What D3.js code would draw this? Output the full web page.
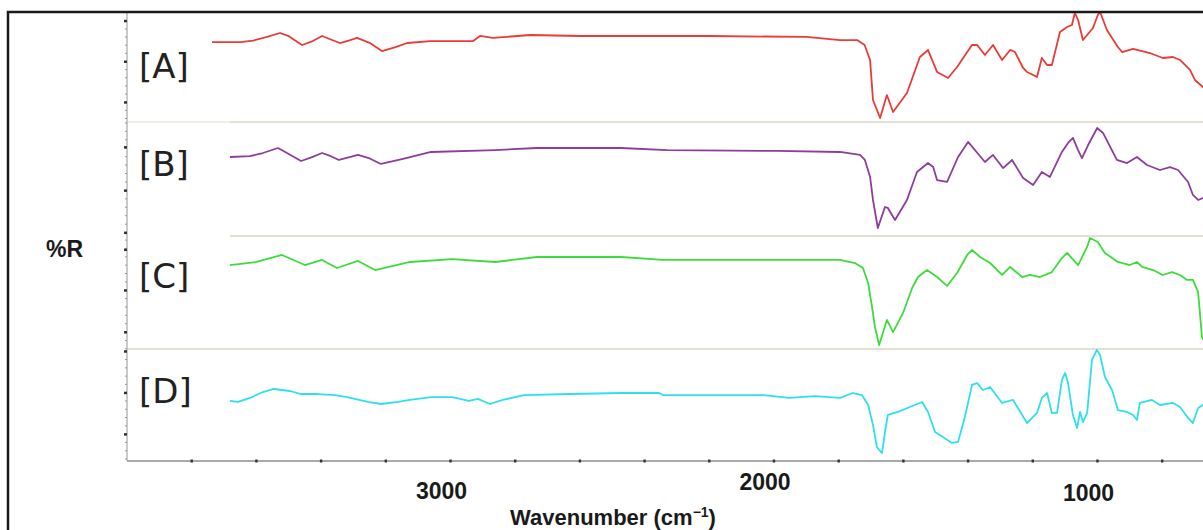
<!DOCTYPE html>
<html>
<head>
<meta charset="utf-8">
<script src="https://cdn.jsdelivr.net/npm/d3@7/dist/d3.min.js"></script>
<style>
  html, body { margin: 0; padding: 0; background: #fff; }
  svg { display: block; }
</style>
</head>
<body>
<svg id="chart" width="1203" height="530"></svg>
<script>
// ---------------- DATA ----------------
// wavenumber (cm-1), relative %R within each stacked panel (0-100)
const panelLabels = ["[A]", "[B]", "[C]", "[D]"];
const xTickValues = [3000, 2000, 1000];
const xTickLabels = ["3000", "2000", "1000"];
const yAxisTitle = "%R";
const xAxisTitle = "Wavenumber (cm";

const seriesA = [
  [3737,72.7],[3650,72.7],[3610,74],[3567,77.3],[3527,80.9],[3500,78],[3459,70],[3430,73],[3397,78.2],
  [3370,75],[3342,71.8],[3315,74],[3289,76.4],[3250,72],[3212,64.5],[3170,68],[3134,71.8],[3063,73.6],
  [2930,73.6],[2909,78.2],[2869,76.4],[2754,79.1],[2600,78.2],[2200,78.2],[1900,77.3],[1796,74.5],
  [1743,74.5],[1720,70],[1703,56.4],[1694,20],[1672,3.6],[1651,24.5],[1632,9.1],[1589,26.4],[1549,59.1],
  [1524,65.5],[1496,45.5],[1462,40],[1434,50],[1388,70],[1372,70],[1348,60.9],[1323,70],[1295,56.4],
  [1270,65.5],[1255,63.6],[1230,49.1],[1218,45.5],[1199,42.7],[1187,40.9],[1172,58.2],[1156,51.8],
  [1141,51.8],[1116,81.8],[1094,86.4],[1079,88.2],[1070,99.1],[1060,92.7],[1045,74.5],[1014,85.5],
  [999,97.3],[992,100],[971,83.6],[937,68.2],[924,63.6],[890,66.4],[838,62.7],[798,58.2],[767,59.1],
  [745,56.4],[714,47.3],[699,38.2],[674,31.8],[655,29]
];
const seriesB = [
  [3682,69.3],[3620,70],[3580,72.8],[3533,77.2],[3500,72],[3462,65.8],[3430,69],[3397,72.8],[3370,70],
  [3345,66.7],[3315,69],[3286,71.1],[3250,68],[3215,63.2],[3150,67.5],[3060,73.7],[2862,75.4],[2733,77.2],
  [2473,77.2],[2331,75.4],[1991,74.6],[1796,73.7],[1734,71.1],[1719,66.7],[1703,51.8],[1694,31.6],
  [1679,7],[1657,25.4],[1648,24.6],[1626,14],[1589,31.6],[1558,56.1],[1524,64],[1508,60.5],[1496,49.1],
  [1465,47.4],[1431,69.3],[1400,82.5],[1348,64.9],[1323,71.1],[1292,59.6],[1264,66.7],[1230,50.9],
  [1199,44.7],[1172,56.1],[1147,51.8],[1110,73.7],[1091,81.6],[1076,86],[1060,75.4],[1048,68.4],
  [1029,79.8],[1001,94.7],[983,90.4],[940,66.7],[909,64],[878,69.3],[847,62.3],[807,57.9],[776,60.5],
  [751,57.9],[720,47.4],[705,36],[689,31.6],[674,33.3],[655,31]
];
const seriesC = [
  [3682,74.3],[3600,77],[3521,83.2],[3450,74.3],[3397,78.8],[3351,71.7],[3286,77.9],[3233,69.9],
  [3125,77],[2995,79.6],[2862,77],[2733,81.4],[2473,81.4],[2343,78.8],[1796,78.8],[1750,76.1],
  [1725,71.7],[1709,58.4],[1697,37.2],[1688,19.5],[1675,3.5],[1651,25.7],[1632,15],[1601,31.9],
  [1573,54],[1555,63.7],[1527,69.9],[1496,63.7],[1465,55.8],[1434,67.3],[1403,83.2],[1388,87.6],
  [1363,81.4],[1332,76.1],[1295,65.5],[1270,72.6],[1233,63.7],[1209,65.5],[1178,63.7],[1141,68.1],
  [1110,80.5],[1094,85],[1060,74.3],[1032,90.3],[1023,98.2],[999,94.7],[977,85],[937,77],[900,74.3],
  [878,77],[862,72.6],[828,69.9],[798,65.5],[770,68.1],[745,65.5],[723,61.1],[705,61.1],[689,50.4],
  [677,10.6],[665,5]
];
const seriesD = [
  [3682,53.6],[3657,52.7],[3620,56.3],[3580,61.6],[3546,64.3],[3496,62.5],[3462,59.8],[3410,59.8],
  [3357,58.9],[3320,57.1],[3255,52.7],[3215,50.9],[3162,52.7],[3125,54.5],[3060,57.1],[2995,57.1],
  [2943,53.6],[2915,55.4],[2878,50.9],[2838,54.5],[2773,58.9],[2631,59.8],[2473,60.7],[2355,60.7],
  [2343,58.9],[2031,58.9],[1954,56.3],[1873,58],[1796,56.3],[1756,60.7],[1728,58.9],[1709,50],
  [1694,32.1],[1682,12.5],[1666,7.1],[1657,25.9],[1648,41.1],[1617,43.8],[1580,48.2],[1542,52.7],
  [1524,43.8],[1502,25.9],[1478,21.4],[1450,16.1],[1431,17],[1410,39.3],[1388,67.9],[1372,69.6],
  [1354,63.4],[1332,66.1],[1295,51.8],[1261,54.5],[1218,33.9],[1187,42.9],[1172,56.3],[1156,60.7],
  [1141,42.9],[1125,42.9],[1110,72.3],[1100,78.6],[1091,69.6],[1076,41.1],[1063,29.5],[1054,43.8],
  [1045,34.8],[1032,42.9],[1017,90.2],[1002,99.1],[992,94.6],[977,75],[955,63.4],[937,45.5],[909,43.8],
  [890,41.1],[878,36.6],[869,51.8],[832,54.5],[807,50],[767,51.8],[745,48.2],[720,38.4],[705,33.9],
  [689,47.3],[674,50],[655,52]
];
const seriesList = [seriesA, seriesB, seriesC, seriesD];
// left-axis major tick values per panel (in panel %R units)
const yMajorTicks = [[18, 55, 92], [3, 40, 78], [15, 52, 88], [24, 61, 98]];

// ---------------- LAYOUT / STYLE ----------------
const colors = ["#ea3b36", "#8e3c9e", "#3ddc3a", "#2fe0ec"];
const plotLeft = 127, plotTop = 12, plotBottom = 461;
const panelBounds = [[12, 122], [122, 236], [236, 349], [349, 461]];

const svg = d3.select("#chart");

const x = d3.scaleLinear()
  .domain([4000, 600])
  .range([plotLeft, plotLeft + 3400 * (1097 - 450) / 2000]);

const defs = svg.append("defs");
defs.append("clipPath").attr("id", "plotclip")
  .append("rect").attr("x", plotLeft).attr("y", plotTop)
  .attr("width", 1203 - plotLeft).attr("height", plotBottom - plotTop);

// separators
const sepG = svg.append("g");
sepG.append("line").attr("x1", plotLeft).attr("x2", 230).attr("y1", 122).attr("y2", 122)
  .attr("stroke", "#eeede6").attr("stroke-width", 2);
sepG.append("line").attr("x1", 230).attr("x2", 1203).attr("y1", 122).attr("y2", 122)
  .attr("stroke", "#e4e0d2").attr("stroke-width", 2);
sepG.append("line").attr("x1", 230).attr("x2", 1203).attr("y1", 236).attr("y2", 236)
  .attr("stroke", "#e4e0d2").attr("stroke-width", 2);
sepG.append("line").attr("x1", plotLeft).attr("x2", 1203).attr("y1", 349).attr("y2", 349)
  .attr("stroke", "#e4e0d2").attr("stroke-width", 2);

// panels
const panelScales = panelBounds.map(([t, b]) => d3.scaleLinear().domain([0, 100]).range([b, t]));

const plotG = svg.append("g").attr("clip-path", "url(#plotclip)");
seriesList.forEach((s, i) => {
  const y = panelScales[i];
  const line = d3.line().x(d => x(d[0])).y(d => y(d[1])).curve(d3.curveLinear);
  plotG.append("path").datum(s)
    .attr("d", line)
    .attr("fill", "none")
    .attr("stroke", colors[i])
    .attr("stroke-width", 1.8)
    .attr("stroke-linejoin", "round");
});

// panel labels
const labelBaselines = [78, 176, 288, 403];
panelLabels.forEach((t, i) => {
  svg.append("text").attr("x", 139).attr("y", labelBaselines[i])
    .attr("font-family", "DejaVu Sans, sans-serif").attr("font-size", 34)
    .attr("fill", "#222").text(t);
});

// left axis
svg.append("line").attr("x1", plotLeft).attr("x2", plotLeft).attr("y1", plotTop).attr("y2", plotBottom)
  .attr("stroke", "#b8b8b8").attr("stroke-width", 1.5);
panelScales.forEach((y, i) => {
  const majors = yMajorTicks[i];
  const step = (majors[1] - majors[0]) / 5;
  const minors = d3.range(-20, 40).map(k => majors[0] + k * step).filter(v => v >= 0 && v <= 100);
  const ax = svg.append("g").attr("transform", `translate(${plotLeft},0)`);
  ax.selectAll("line.minor").data(minors).enter().append("line")
    .attr("x1", -2).attr("x2", 0).attr("y1", d => y(d)).attr("y2", d => y(d))
    .attr("stroke", "#999").attr("stroke-width", 1);
  ax.selectAll("rect.major").data(majors).enter().append("rect")
    .attr("x", -3).attr("y", d => y(d) - 1).attr("width", 3).attr("height", 2.5)
    .attr("fill", "#333");
});

// bottom axis
svg.append("line").attr("x1", plotLeft).attr("x2", 1203).attr("y1", plotBottom).attr("y2", plotBottom)
  .attr("stroke", "#a9a9a9").attr("stroke-width", 2.2);
const minorX = d3.range(3800, 600, -200);
svg.append("g").selectAll("rect").data(minorX).enter().append("rect")
  .attr("x", d => x(d) - 1.2).attr("y", plotBottom - 1.5).attr("width", 2.4).attr("height", 3)
  .attr("fill", "#333");

const labelDy = {3000: 0, 2000: -9, 1000: 2};
xTickValues.forEach((v, i) => {
  svg.append("text").attr("x", x(v) - 9).attr("y", 499 + labelDy[v])
    .attr("text-anchor", "middle")
    .attr("font-family", "Liberation Sans, Arial, sans-serif").attr("font-weight", "bold")
    .attr("font-size", 23).attr("fill", "#1a1a1a").text(xTickLabels[i]);
});

// axis titles
const xt = svg.append("text").attr("x", 613).attr("y", 525).attr("text-anchor", "middle")
  .attr("font-family", "Liberation Sans, Arial, sans-serif").attr("font-weight", "bold")
  .attr("font-size", 22).attr("fill", "#1a1a1a");
xt.append("tspan").text(xAxisTitle);
xt.append("tspan").attr("font-size", 14).attr("dy", -8).text("\u22121");
xt.append("tspan").attr("dy", 8).text(")");

svg.append("text").attr("x", 46).attr("y", 257)
  .attr("font-family", "Liberation Sans, Arial, sans-serif").attr("font-weight", "bold")
  .attr("font-size", 23).attr("fill", "#1a1a1a").text(yAxisTitle);

// outer frame
svg.append("rect").attr("x", 8).attr("y", 12).attr("width", 1210).attr("height", 540)
  .attr("fill", "none").attr("stroke", "#1a1a1a").attr("stroke-width", 2.5);
</script>
</body>
</html>
